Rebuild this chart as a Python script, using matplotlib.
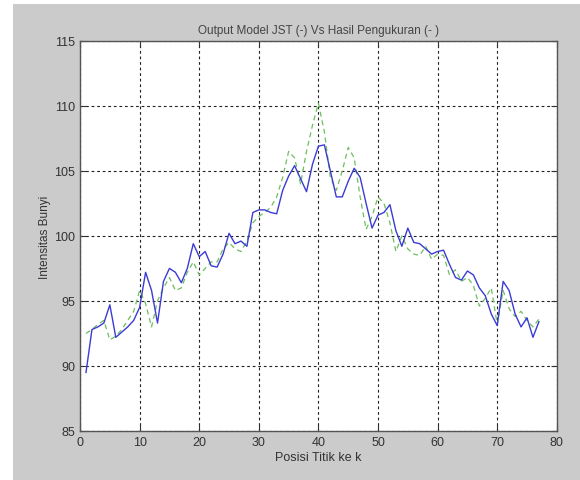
import numpy as np
import matplotlib
matplotlib.use("Agg")
import matplotlib.pyplot as plt
from matplotlib.patches import Rectangle

# Titik pengukuran 1..77
posisi = np.arange(1, 78)

# Output model JST (garis biru)
output_jst = [89.5, 92.8, 93.0, 93.3, 94.7, 92.2, 92.6, 93.0, 93.5, 94.5,
              97.2, 95.8, 93.3, 96.5, 97.5, 97.2, 96.4, 97.5, 99.4, 98.4,
              98.8, 97.7, 97.6, 98.6, 100.2, 99.4, 99.6, 99.2, 101.8, 102.0,
              102.0, 101.8, 101.7, 103.5, 104.6, 105.4, 104.4, 103.4, 105.5, 106.9,
              107.0, 105.0, 103.0, 103.0, 104.2, 105.2, 104.5, 102.5, 100.6, 101.6,
              101.8, 102.4, 100.4, 99.2, 100.6, 99.5, 99.4, 99.0, 98.6, 98.8,
              98.9, 97.8, 96.8, 96.6, 97.3, 97.0, 96.0, 95.4, 94.0, 93.1,
              96.5, 95.8, 94.0, 93.0, 93.7, 92.2, 93.4]

# Hasil pengukuran (garis hijau putus-putus)
pengukuran = [92.5, 92.8, 93.2, 93.5, 92.0, 92.3, 92.8, 93.5, 94.2, 95.8,
              94.8, 93.0, 95.0, 96.0, 96.8, 95.8, 96.0, 97.2, 98.0, 97.0,
              97.5, 98.0, 98.0, 99.0, 99.5, 99.0, 98.8, 99.6, 101.0, 101.5,
              101.8, 102.2, 103.0, 104.5, 106.5, 106.0, 104.0, 106.5, 108.5, 110.2,
              108.0, 104.5, 103.5, 105.0, 106.8, 106.0, 103.0, 100.5, 101.5, 103.0,
              102.5, 101.0, 98.8, 100.0, 99.0, 98.6, 98.5, 99.2, 98.2, 98.6,
              98.5, 97.0, 97.4, 96.5, 96.8, 96.2, 94.6, 95.2, 96.0, 93.2,
              95.8, 94.4, 93.8, 94.2, 93.5, 93.0, 93.6]

plt.rcParams['font.family'] = ['Liberation Sans', 'DejaVu Sans']

fig = plt.figure(figsize=(5.8, 4.81), dpi=100, facecolor='#cbcbcb')
# white strip on the top and left edge
fig.patches.append(Rectangle((0, 0), 13 / 580, 1, transform=fig.transFigure,
                             facecolor='white', edgecolor='none', zorder=-1))
fig.patches.append(Rectangle((0, 1 - 5 / 481), 1, 5 / 481, transform=fig.transFigure,
                             facecolor='white', edgecolor='none', zorder=-1))

ax = fig.add_axes([0.138, 0.102, 0.822, 0.811])
ax.set_facecolor('white')

ax.plot(posisi, output_jst, color='#3b3bd6', lw=1.0, zorder=3)
ax.plot(posisi, pengukuran, color='#6cbf5c', lw=0.9, ls=(0, (4, 3)), zorder=2)

ax.set_xlim(0, 80)
ax.set_ylim(85, 115)
ax.set_xticks(range(0, 81, 10))
ax.set_yticks(range(85, 116, 5))
ax.grid(True, color='#222222', ls=(0, (2.5, 2.5)), lw=0.8)
ax.tick_params(direction='in', top=True, right=True, length=4, labelsize=9,
               colors='#333333')
for s in ax.spines.values():
    s.set_color('#555555')
    s.set_linewidth(1.0)

ax.set_title('Output Model JST (-) Vs Hasil Pengukuran (- )', fontsize=8.5,
             color='#444444', pad=6)
ax.set_xlabel('Posisi Titik ke k', fontsize=9, color='#333333', labelpad=2)
ax.set_ylabel('Intensitas Bunyi', fontsize=8.5, color='#333333', labelpad=2)

fig.savefig('out.png', dpi=100, facecolor=fig.get_facecolor())
